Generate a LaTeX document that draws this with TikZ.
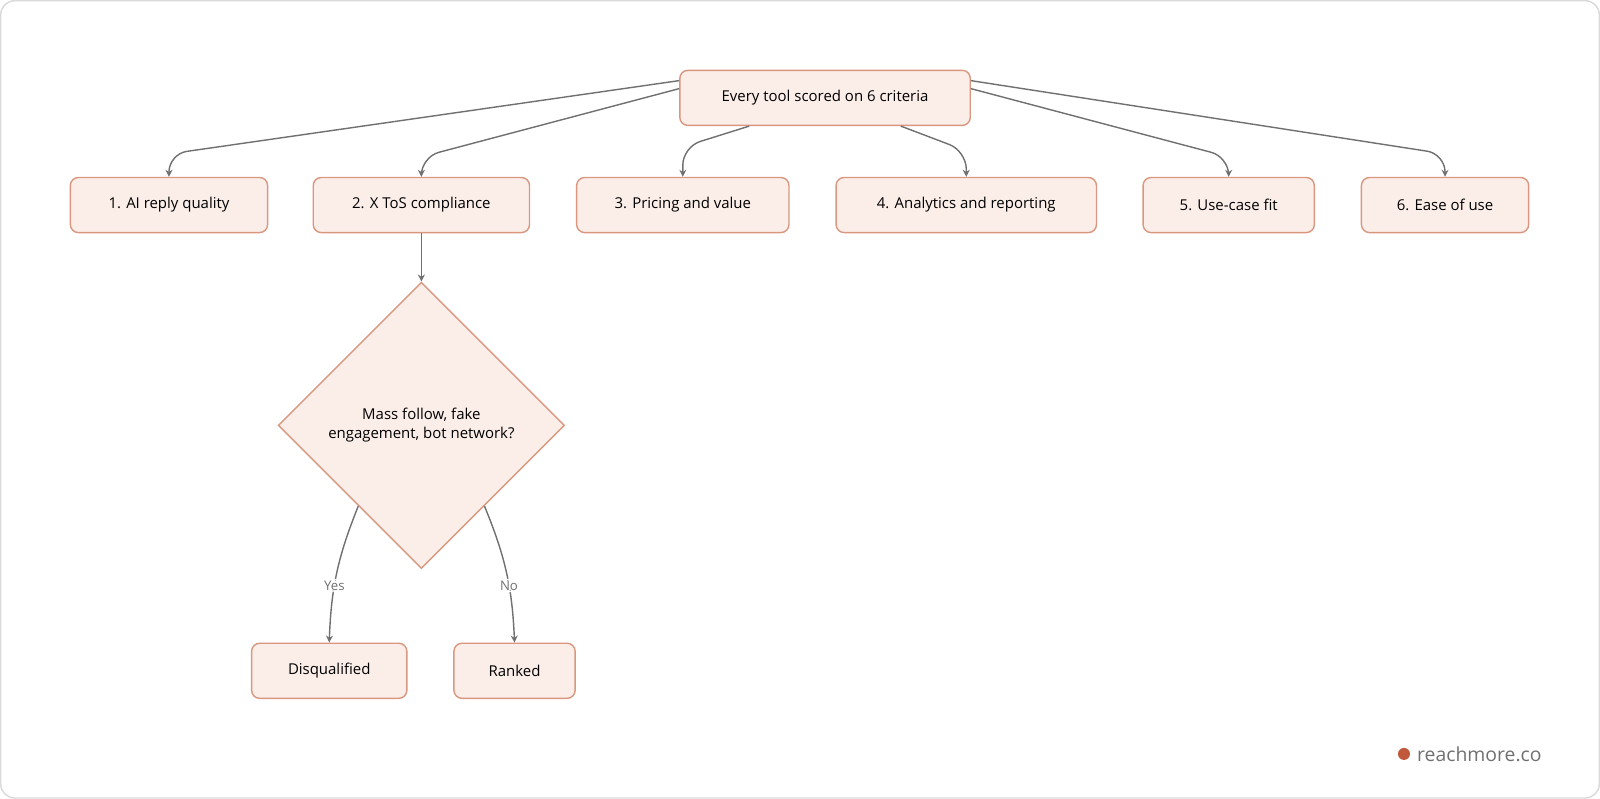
\documentclass[tikz,border=0pt]{standalone}
\usepackage{fontspec}
\setmainfont{Open Sans}
\usetikzlibrary{shapes.geometric,arrows.meta}
\definecolor{boxfill}{HTML}{FBEEE9}
\definecolor{boxline}{HTML}{D9977F}
\definecolor{linkgray}{HTML}{707070}
\definecolor{brand}{HTML}{C0583A}
\begin{document}
\begin{tikzpicture}
    [
    x=0.02cm,y=-0.02cm,
    crit/.style={rectangle,rounded corners=0.16cm,draw=boxline,fill=boxfill,thick,minimum height=1.1cm,inner sep=0pt,font=\fontsize{8.5}{10}\selectfont},
    check/.style={diamond,draw=boxline,fill=boxfill,thick,minimum width=5.72cm,minimum height=5.72cm,inner sep=0pt,align=center,font=\fontsize{8.5}{11}\selectfont},
    link/.style={draw=linkgray,thick,-{Stealth[length=0.14cm,width=0.14cm]},rounded corners=0.36cm},
    tag/.style={fill=white,inner sep=1pt,text=linkgray,font=\fontsize{7.5}{9}\selectfont}
    ]
    \draw [black!15,rounded corners=0.28cm,thick] (2,2) rectangle (1598,798);
    \node (top) at (825,99) [crit,minimum width=5.8cm] {Every tool scored on 6 criteria};
    \node (c1) at (170,206) [crit,minimum width=3.94cm] {1. AI reply quality};
    \node (c2) at (422,206) [crit,minimum width=4.32cm] {2. X ToS compliance};
    \node (c3) at (683,206) [crit,minimum width=4.24cm] {3. Pricing and value};
    \node (c4) at (966,206) [crit,minimum width=5.2cm] {4. Analytics and reporting};
    \node (c5) at (1228,206) [crit,minimum width=3.42cm] {5. Use-case fit};
    \node (c6) at (1444,206) [crit,minimum width=3.34cm] {6. Ease of use};
    \node (q) at (422,426) [check] {Mass follow, fake\\engagement, bot network?};
    \node (out) at (330,671) [crit,minimum width=3.1cm] {Disqualified};
    \node (ok) at (515,671) [crit,minimum width=2.42cm] {Ranked};
    \node (dot) at (1403,754) [circle,fill=brand,inner sep=0pt,minimum size=0.24cm] {};
    \node (brand) at (1410,754) [anchor=west,text=linkgray,font=\fontsize{11}{13}\selectfont] {reachmore.co};
    \coordinate (t1) at ([yshift=-0.22cm]top.north west);
    \coordinate (t2) at ([yshift=-0.38cm]top.north west);
    \coordinate (t3) at ([xshift=1.4cm]top.south west);
    \coordinate (t4) at ([xshift=-1.4cm]top.south east);
    \coordinate (t5) at ([yshift=-0.38cm]top.north east);
    \coordinate (t6) at ([yshift=-0.22cm]top.north east);
    % top to criteria
    \draw [link] (t1) -- (170,155) -- (c1.north);
    \draw [link] (t2) -- (422,158) -- (c2.north);
    \draw [link] (t3) -- (683,148) -- (c3.north);
    \draw [link] (t4) -- (966,152) -- (c4.north);
    \draw [link] (t5) -- (1228,158) -- (c5.north);
    \draw [link] (t6) -- (1444,155) -- (c6.north);
    % decision
    \draw [link] (c2.south) -- (q.north);
    \draw [link] (q.-128) to[bend right=10] node [tag,pos=0.6] {Yes} (out.north);
    \draw [link] (q.-52) to[bend left=10] node [tag,pos=0.6] {No} (ok.north);
\end{tikzpicture}
\end{document}
